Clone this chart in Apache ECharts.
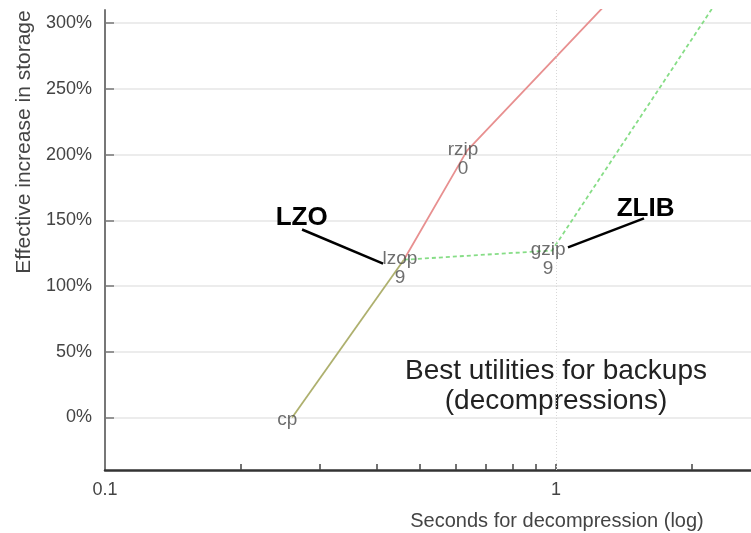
<!DOCTYPE html>
<html>
<head>
<meta charset="utf-8">
<script src="https://cdn.jsdelivr.net/npm/echarts@6/dist/echarts.min.js"></script>
<style>html,body{margin:0;padding:0;background:#fff}#c{width:751px;height:533px}</style>
</head>
<body>
<div id="c"></div>
<script>
// Data
const pointNames = ['cp', 'lzop\n9', 'rzip\n0', 'gzip\n9'];
const pointX = [0.26, 0.46, 0.635, 0.98];          // seconds
const pointY = [0, 120, 203, 127];                  // % increase
const redTail = [1.5, 338];                         // rzip line continues off top
const greenTail = [2.5, 338];                       // gzip line continues off top
const yTicks = [0, 50, 100, 150, 200, 250, 300];
const xLabels = [0.1, 1];
const xMinorTicks = [0.2, 0.3, 0.4, 0.5, 0.6, 0.7, 0.8, 0.9, 1, 2];
const notes = [
  {text: 'LZO',  at: [0.273, 152], from: [0.2735, 143], to: [0.4136, 117]},
  {text: 'ZLIB', at: [1.58, 159],  from: [1.567, 151.4], to: [1.063, 129.4]}
];

const F = '"Liberation Sans", Arial, sans-serif';
const pts = pointX.map((x, i) => [x, pointY[i]]);

const chart = echarts.init(document.getElementById('c'), null, {renderer: 'canvas'});
chart.setOption({
  animation: false,
  backgroundColor: '#fff',
  grid: {left: 105, right: 0, top: 10, bottom: 63, containLabel: false},
  xAxis: {
    type: 'log', logBase: 10, min: 0.1, max: 2.706,
    axisLine: {show: true, onZero: false, lineStyle: {color: '#333', width: 2.5}},
    axisTick: {show: true, inside: true, length: 6, customValues: xMinorTicks, lineStyle: {color: '#444', width: 1.5}},
    axisLabel: {customValues: xLabels, margin: 11, fontFamily: F, fontSize: 18, color: '#444',
      formatter: v => String(v)},
    splitLine: {show: false}
  },
  yAxis: {
    type: 'value', min: -40, max: 310,
    axisLine: {show: true, onZero: false, lineStyle: {color: '#777', width: 2}},
    axisTick: {show: true, inside: true, length: 9, customValues: yTicks, lineStyle: {color: '#777', width: 1.5}},
    axisLabel: {customValues: yTicks, margin: 13, fontFamily: F, fontSize: 18, color: '#444',
      formatter: v => v + '%'},
    splitLine: {show: true, lineStyle: {color: '#e6e6e6', width: 1.5}}
  },
  graphic: [
    {type: 'text', x: 557, y: 521, style: {text: 'Seconds for decompression (log)', fontFamily: F, fontSize: 20, fill: '#444', textAlign: 'center', textVerticalAlign: 'middle'}},
    {type: 'text', x: 24, y: 142, rotation: Math.PI / 2, style: {text: 'Effective increase in storage', fontFamily: F, fontSize: 21, fill: '#444', textAlign: 'center', textVerticalAlign: 'middle'}},
    {type: 'text', x: 556, y: 386, style: {text: 'Best utilities for backups\n(decompressions)', fontFamily: F, fontSize: 28, lineHeight: 30, fill: '#222', textAlign: 'center', textVerticalAlign: 'middle'}}
  ],
  series: [
    {
      name: 'olive', type: 'line', data: [pts[0], pts[1]], showSymbol: false, symbol: 'none',
      lineStyle: {color: '#aeb06e', width: 1.8}, z: 3,
      markLine: {
        silent: true, symbol: 'none', label: {show: false},
        lineStyle: {color: '#d8d8d8', type: [1, 2], width: 1},
        data: [{xAxis: 1}]
      }
    },
    {
      name: 'rzip', type: 'line', data: [pts[1], pts[2], redTail], showSymbol: false, symbol: 'none',
      lineStyle: {color: '#e89090', width: 1.8}, z: 3
    },
    {
      name: 'gzip', type: 'line', data: [pts[1], pts[3], greenTail], showSymbol: false, symbol: 'none',
      lineStyle: {color: '#86dd86', width: 1.8, type: [4, 3]}, z: 3
    },
    {
      name: 'labels', type: 'scatter', symbolSize: 0, z: 5,
      data: pointX.map((x, i) => ({
        value: [x, pointY[i]],
        label: {offset: pointNames[i].indexOf('\n') >= 0 ? [-4, 9] : [-5, 2]}
      })),
      label: {show: true, position: 'inside', fontFamily: F, fontSize: 19, lineHeight: 19, color: '#4a4a4a',
        formatter: p => pointNames[p.dataIndex]},
      markLine: {
        silent: true, symbol: 'none', label: {show: false},
        lineStyle: {color: '#000', width: 2.5, type: 'solid'},
        data: notes.map(n => [{coord: n.from}, {coord: n.to}])
      },
      markPoint: {
        silent: true, symbol: 'circle', symbolSize: 0,
        label: {show: true, position: 'inside', fontFamily: F, fontSize: 26, fontWeight: 'bold', color: '#000',
          formatter: p => p.name},
        data: notes.map(n => ({name: n.text, coord: n.at}))
      }
    }
  ]
});
</script>
</body>
</html>
